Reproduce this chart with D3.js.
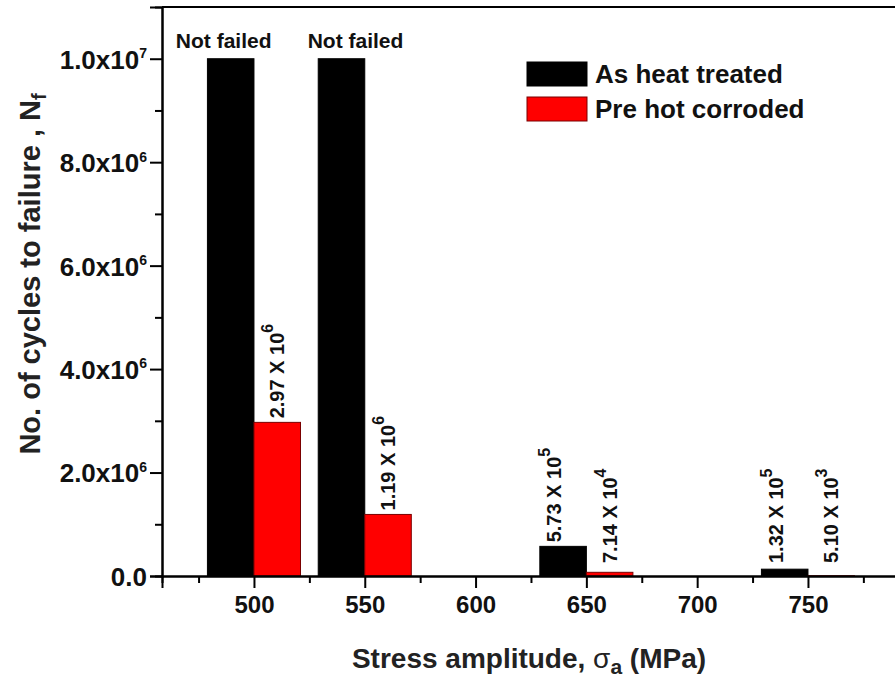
<!DOCTYPE html>
<html>
<head>
<meta charset="utf-8">
<script src="https://cdn.jsdelivr.net/npm/d3@7"></script>
<style>
  body { margin: 0; background: #fff; }
  svg { display: block; font-family: "Liberation Sans", Arial, sans-serif; font-weight: bold; }
</style>
</head>
<body>
<div class="chart"></div>
<script>
// DATA ------------------------------
const stress = [500, 550, 650, 750];
const heatTreated = [1e7, 1e7, 5.73e5, 1.32e5];
const hotCorroded = [2.97e6, 1.19e6, 7.14e4, 5.10e3];
const heatLabels = [["Not failed", ""], ["Not failed", ""], ["5.73 X 10", "5"], ["1.32 X 10", "5"]];
const corrodedLabels = [["2.97 X 10", "6"], ["1.19 X 10", "6"], ["7.14 X 10", "4"], ["5.10 X 10", "3"]];
const seriesNames = ["As heat treated", "Pre hot corroded"];
const seriesColors = ["#000000", "#ff0000"];

const yMajor = [0, 2e6, 4e6, 6e6, 8e6, 1e7];
const yTickLabels = [["0.0", ""], ["2.0x10", "6"], ["4.0x10", "6"], ["6.0x10", "6"], ["8.0x10", "6"], ["1.0x10", "7"]];
const yMinor = [1e6, 3e6, 5e6, 7e6, 9e6];
const xMajor = [500, 550, 600, 650, 700, 750];
const xMinor = [475, 525, 575, 625, 675, 725, 775];

// LAYOUT ----------------------------
const W = 895, H = 682;
const marginLeft = 162, plotTop = 7, plotBottom = 576;
const barW = 21; // bar width in MPa units

const svg = d3.select(".chart").append("svg")
    .attr("width", W)
    .attr("height", H);

svg.append("rect").attr("width", W).attr("height", H).attr("fill", "#fff");

const x = d3.scaleLinear()
    .domain([458.5, 800])
    .range([marginLeft, marginLeft + 341.5 * 2.216]);

const y = d3.scaleLinear()
    .domain([0, 1.1e7])
    .range([plotBottom, plotTop]);

// bars
const rows = stress.map((s, i) => ({s: s, a: heatTreated[i], b: hotCorroded[i], la: heatLabels[i], lb: corrodedLabels[i]}));

svg.selectAll(".bar-a")
    .data(rows)
    .enter().append("rect")
    .attr("class", "bar-a")
    .attr("x", d => x(d.s - barW))
    .attr("width", d => x(d.s) - x(d.s - barW))
    .attr("y", d => y(d.a))
    .attr("height", d => y(0) - y(d.a))
    .attr("fill", seriesColors[0])
    .attr("stroke", "#000")
    .attr("stroke-width", 1);

svg.selectAll(".bar-b")
    .data(rows)
    .enter().append("rect")
    .attr("class", "bar-b")
    .attr("x", d => x(d.s))
    .attr("width", d => x(d.s + barW) - x(d.s))
    .attr("y", d => y(d.b))
    .attr("height", d => y(0) - y(d.b))
    .attr("fill", seriesColors[1])
    .attr("stroke", "#7a0000")
    .attr("stroke-width", 1);

// frame: top line + axes
svg.append("line")
    .attr("x1", marginLeft).attr("x2", W + 30)
    .attr("y1", plotTop).attr("y2", plotTop)
    .attr("stroke", "#000").attr("stroke-width", 2);

// y axis
const yAxis = d3.axisLeft(y)
    .tickValues(yMajor)
    .tickSize(12)
    .tickPadding(3)
    .tickFormat("");

const yAxisGroup = svg.append("g")
    .attr("class", "axis y-axis")
    .attr("transform", "translate(" + marginLeft + ",0)")
    .call(yAxis);

yAxisGroup.selectAll("text")
    .attr("font-size", 26)
    .attr("dy", "0.36em")
    .each(function(d, i) {
        const t = d3.select(this);
        t.append("tspan").text(yTickLabels[i][0]);
        if (yTickLabels[i][1]) {
            t.append("tspan")
                .attr("font-size", 14)
                .attr("dy", "-0.75em")
                .text(yTickLabels[i][1]);
        }
    });

svg.append("g")
    .attr("transform", "translate(" + marginLeft + ",0)")
    .call(d3.axisLeft(y).tickValues(yMinor).tickSize(7).tickFormat(""));

// x axis
const xAxisGroup = svg.append("g")
    .attr("class", "axis x-axis")
    .attr("transform", "translate(0," + plotBottom + ")")
    .call(d3.axisBottom(x).tickValues(xMajor).tickSize(12).tickPadding(6).tickFormat(d3.format("d")));

xAxisGroup.selectAll("text")
    .attr("font-size", 24)
    .attr("dy", "0.78em");

svg.append("g")
    .attr("transform", "translate(0," + plotBottom + ")")
    .call(d3.axisBottom(x).tickValues(xMinor).tickSize(7).tickFormat(""));

svg.selectAll(".domain").attr("stroke-width", 2).attr("stroke", "#000");
svg.selectAll(".tick line").attr("stroke-width", 2).attr("stroke", "#000");
svg.selectAll(".tick text").attr("fill", "#111");

// value labels
const nudgeA = [-7, 14, -9, -9];

function rotatedLabel(cx, v, lab) {
    const ly = Math.min(y(v) - 4, 563);
    const t = svg.append("text")
        .attr("transform", "translate(" + cx + "," + ly + ") rotate(-90)")
        .attr("dy", "0.36em")
        .attr("font-size", 20)
        .attr("fill", "#111");
    t.append("tspan").text(lab[0]);
    t.append("tspan").attr("font-size", 16).attr("dy", "-0.7em").text(lab[1]);
}

rows.forEach((d, i) => {
    const cxA = (x(d.s - barW) + x(d.s)) / 2 + nudgeA[i];
    if (d.la[1] === "") {
        svg.append("text")
            .attr("x", cxA)
            .attr("y", y(d.a) - 11)
            .attr("text-anchor", "middle")
            .attr("font-size", 21)
            .attr("fill", "#111")
            .text(d.la[0]);
    } else {
        rotatedLabel(cxA, d.a, d.la);
    }
    const cxB = (x(d.s) + x(d.s + barW)) / 2;
    rotatedLabel(cxB, d.b, d.lb);
});

// legend
const legend = svg.append("g").attr("transform", "translate(527,62)");
seriesNames.forEach((name, i) => {
    legend.append("rect")
        .attr("x", 0).attr("y", i * 35)
        .attr("width", 60).attr("height", 24)
        .attr("fill", seriesColors[i])
        .attr("stroke", i ? "#7a0000" : "#000");
    legend.append("text")
        .attr("x", 68).attr("y", i * 35 + 12)
        .attr("dy", "0.36em")
        .attr("font-size", 26)
        .attr("fill", "#111")
        .text(name);
});

// axis titles
const xt = svg.append("text")
    .attr("x", 529).attr("y", 668)
    .attr("text-anchor", "middle")
    .attr("font-size", 28)
    .attr("fill", "#222");
xt.append("tspan").text("Stress amplitude, ");
xt.append("tspan").attr("font-weight", "normal").text("σ");
xt.append("tspan").attr("font-size", 21).attr("dy", "0.3em").text("a");
xt.append("tspan").attr("dy", "-0.22em").text(" (MPa)");

const yt = svg.append("text")
    .attr("transform", "translate(40,274) rotate(-90)")
    .attr("text-anchor", "middle")
    .attr("font-size", 29)
    .attr("fill", "#222");
yt.append("tspan").text("No. of cycles to failure , N");
yt.append("tspan").attr("font-size", 20).attr("dy", "0.3em").text("f");
</script>
</body>
</html>
